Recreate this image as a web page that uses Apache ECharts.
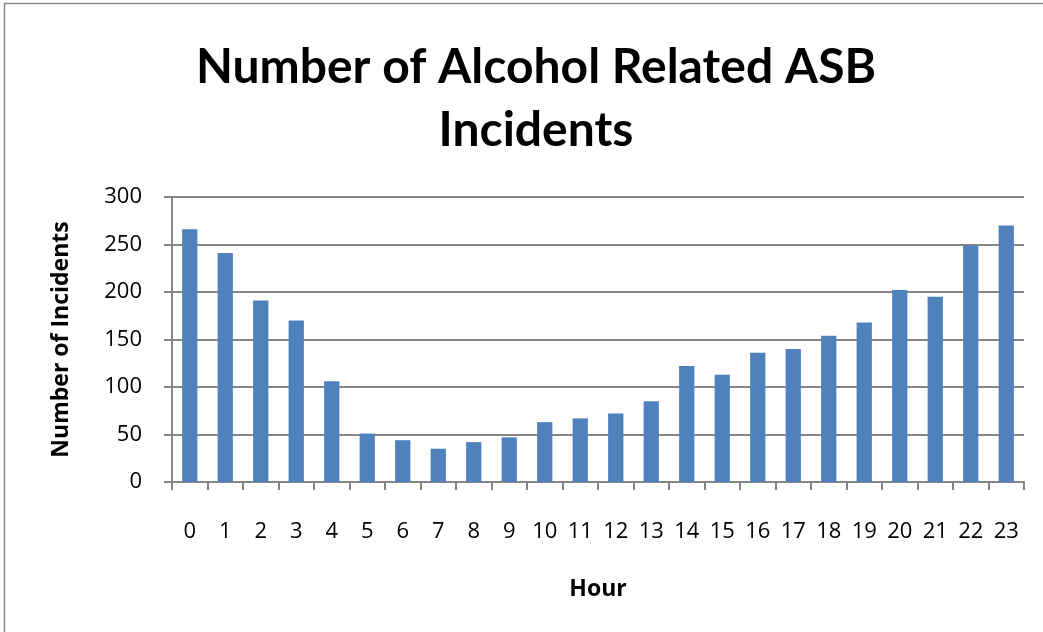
<!DOCTYPE html>
<html>
<head>
<meta charset="utf-8">
<script src="https://cdn.jsdelivr.net/npm/echarts@6/dist/echarts.min.js"></script>
<style>
html,body{margin:0;padding:0;background:#fff;}
#chart{width:1043px;height:632px;}
</style>
</head>
<body>
<div id="chart"></div>
<script>
const titleText = 'Number of Alcohol Related ASB\nIncidents';
const xAxisTitle = 'Hour';
const yAxisTitle = 'Number of Incidents';
const hours = ['0','1','2','3','4','5','6','7','8','9','10','11','12','13','14','15','16','17','18','19','20','21','22','23'];
const incidents = [266, 241, 191, 170, 106, 51, 44, 35, 42, 47, 63, 67, 72, 85, 122, 113, 136, 140, 154, 168, 202, 195, 249, 270];
const yTicks = [0, 50, 100, 150, 200, 250, 300];

const TITLE_FONT = 'Lato, "Open Sans", sans-serif';
const FONT = '"Open Sans", Lato, sans-serif';
const chart = echarts.init(document.getElementById('chart'), null, {renderer: 'canvas'});
chart.setOption({
  animation: false,
  backgroundColor: '#ffffff',
  graphic: [{
    type: 'rect',
    shape: {x: 4.5, y: 3.5, width: 1050, height: 700},
    style: {fill: 'none', stroke: '#8c8c8c', lineWidth: 1.5}
  }],
  title: {
    text: titleText,
    left: 531,
    top: 31,
    textAlign: 'center',
    textStyle: {fontFamily: TITLE_FONT, fontWeight: 'bold', fontSize: 48, lineHeight: 63, color: '#000'}
  },
  grid: {left: 172, right: 19, top: 197, bottom: 150, containLabel: false},
  xAxis: {
    type: 'category',
    data: hours,
    name: xAxisTitle,
    nameLocation: 'middle',
    nameGap: 96,
    nameTextStyle: {fontFamily: FONT, fontWeight: 'bold', fontSize: 23, color: '#000'},
    axisLine: {lineStyle: {color: '#868686', width: 2}},
    axisTick: {show: true, length: 8, alignWithLabel: false, lineStyle: {color: '#868686', width: 2}},
    axisLabel: {fontFamily: FONT, fontSize: 22, color: '#000', margin: 39, interval: 0}
  },
  yAxis: {
    type: 'value',
    min: 0, max: 300, interval: 50,
    name: yAxisTitle,
    nameLocation: 'middle',
    nameGap: 99,
    nameRotate: 90,
    nameTextStyle: {fontFamily: FONT, fontWeight: 'bold', fontSize: 23, color: '#000'},
    axisLine: {show: true, lineStyle: {color: '#868686', width: 2}},
    axisTick: {show: true, length: 8, lineStyle: {color: '#868686', width: 2}},
    splitLine: {show: true, lineStyle: {color: '#868686', width: 2}},
    axisLabel: {fontFamily: FONT, fontSize: 22, color: '#000', margin: 30,
      formatter: v => yTicks.includes(v) ? String(v) : ''}
  },
  series: [{
    type: 'bar',
    data: incidents,
    barWidth: '43%',
    itemStyle: {color: '#4F81BD'}
  }]
});
</script>
</body>
</html>
